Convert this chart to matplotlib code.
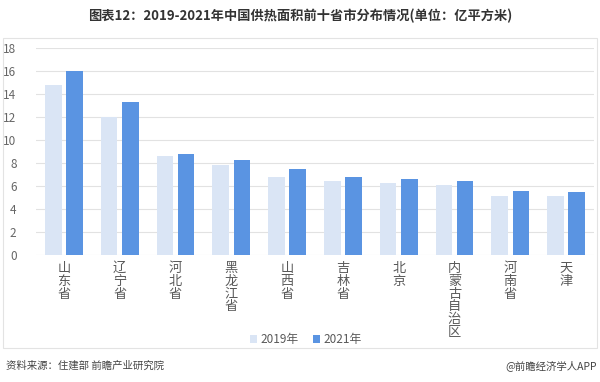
import matplotlib
matplotlib.use("Agg")
from matplotlib import pyplot as plt
from matplotlib.patches import Rectangle
import numpy as np

plt.rcParams['font.family'] = ['Noto Sans CJK SC', 'DejaVu Sans']

provinces = ['山东省', '辽宁省', '河北省', '黑龙江省', '山西省', '吉林省', '北京', '内蒙古自治区', '河南省', '天津']
area_2019 = [14.8, 12.0, 8.6, 7.8, 6.8, 6.4, 6.3, 6.1, 5.1, 5.1]
area_2021 = [16.0, 13.3, 8.8, 8.3, 7.5, 6.8, 6.6, 6.4, 5.6, 5.5]
yticks = [0, 2, 4, 6, 8, 10, 12, 14, 16, 18]

c19 = '#DAE5F5'
c21 = '#5A94E2'

fig = plt.figure(figsize=(6, 3.82), dpi=100)
fig.patch.set_facecolor('white')

# light frame around the chart body
fig.patches.append(Rectangle((3 / 600, 1 - 348 / 382), 594 / 600, 310 / 382,
                             transform=fig.transFigure, fill=False,
                             edgecolor='#E3E3E3', linewidth=0.8))

ax = fig.add_axes([36 / 600, 1 - 255 / 382, 558 / 600, 207 / 382])
x = np.arange(len(provinces))
ax.bar(x - 0.19, area_2019, width=0.3, color=c19, label='2019年', zorder=3)
ax.bar(x + 0.19, area_2021, width=0.3, color=c21, label='2021年', zorder=3)

ax.set_xlim(-0.5, len(provinces) - 0.5)
ax.set_ylim(0, 18)
ax.set_yticks(yticks)
ax.yaxis.grid(True, color='#E2E2E2', linewidth=0.8, zorder=0)
for s in ax.spines.values():
    s.set_visible(False)
ax.tick_params(axis='y', length=0, labelsize=8.5, labelcolor='#666666', pad=14)
ax.set_xticks(x)
ax.set_xticklabels(['\n'.join(p) for p in provinces], fontsize=9.5,
                   color='#595959', linespacing=0.98, va='top')
ax.tick_params(axis='x', length=0, pad=5)

ax.legend(loc='center', bbox_to_anchor=(0.483, -0.41), ncol=2, frameon=False,
          fontsize=8.5, labelcolor='#595959', handlelength=0.6, handleheight=0.6,
          handletextpad=0.3, columnspacing=1.2)

fig.text(0.5, 1 - 16 / 382, '图表12：2019-2021年中国供热面积前十省市分布情况(单位：亿平方米)',
         ha='center', va='center', fontsize=9.5, fontweight='bold', color='#333333')
fig.text(6 / 600, 1 - 366 / 382, '资料来源：住建部 前瞻产业研究院',
         ha='left', va='center', fontsize=7.5, color='#444444')
fig.text(597 / 600, 1 - 366 / 382, '@前瞻经济学人APP',
         ha='right', va='center', fontsize=7.5, color='#444444')

fig.savefig('out.png', dpi=100)
